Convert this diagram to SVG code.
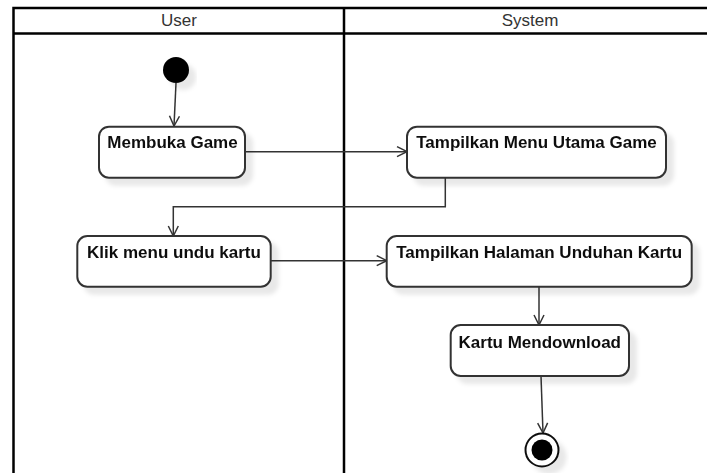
<svg xmlns="http://www.w3.org/2000/svg" width="707" height="473" viewBox="0 0 707 473">
  <defs>
    <filter id="shadow" x="-20%" y="-20%" width="150%" height="160%">
      <feGaussianBlur in="SourceAlpha" stdDeviation="2"/>
      <feOffset dx="7" dy="7" result="off"/>
      <feFlood flood-color="#000" flood-opacity="0.09"/>
      <feComposite in2="off" operator="in"/>
      <feMerge>
        <feMergeNode/>
        <feMergeNode in="SourceGraphic"/>
      </feMerge>
    </filter>
    <marker id="open" viewBox="0 0 12 12" refX="11" refY="6" markerWidth="12" markerHeight="12" markerUnits="userSpaceOnUse" orient="auto">
      <path d="M1,1 L11,6 L1,11" fill="none" stroke="#333" stroke-width="1.5"/>
    </marker>
  </defs>
  <style>
    .lane { fill: none; stroke: #000; stroke-width: 2.5; }
    .head { font-family: "Liberation Sans", Arial, sans-serif; font-size: 17px; fill: #333; text-anchor: middle; }
    .act rect { fill: #fff; stroke: #333; stroke-width: 2; }
    .act text { font-family: "Liberation Sans", Arial, sans-serif; font-size: 17px; font-weight: bold; fill: #111; text-anchor: middle; }
    .flow { fill: none; stroke: #333; stroke-width: 1.5; marker-end: url(#open); }
  </style>
  <rect width="707" height="473" fill="#fff"/>

  <!-- swimlanes -->
  <g id="lanes">
    <path class="lane" d="M13.5,480 V8 H720 M13.5,33.5 H720 M344,8 V480"/>
    <text class="head" x="179" y="26">User</text>
    <text class="head" x="530" y="26">System</text>
  </g>

  <!-- connectors -->
  <g id="connectors">
    <path class="flow" d="M176,83 L174,126"/>
    <path class="flow" d="M245,151.7 H407"/>
    <path class="flow" d="M445.3,177.7 V206.7 H173.3 V236"/>
    <path class="flow" d="M270.7,260.7 H386.7"/>
    <path class="flow" d="M539,286.7 V325"/>
    <path class="flow" d="M541,376 L543,433"/>
  </g>

  <!-- initial node -->
  <g id="start" filter="url(#shadow)">
    <circle cx="176" cy="70" r="13" fill="#000"/>
  </g>

  <g id="membuka-game" class="act" filter="url(#shadow)">
    <rect x="99" y="126.7" width="146" height="51" rx="10"/>
    <text x="172.5" y="148.3">Membuka Game</text>
  </g>

  <g id="menu-utama" class="act" filter="url(#shadow)">
    <rect x="407" y="126.7" width="259" height="51" rx="10"/>
    <text x="536.5" y="148">Tampilkan Menu Utama Game</text>
  </g>

  <g id="klik-menu" class="act" filter="url(#shadow)">
    <rect x="77.3" y="236" width="193.4" height="50.7" rx="10"/>
    <text x="174" y="257.5">Klik menu undu kartu</text>
  </g>

  <g id="halaman-unduhan" class="act" filter="url(#shadow)">
    <rect x="386.7" y="236" width="305" height="50.7" rx="10"/>
    <text x="539.2" y="257.7">Tampilkan Halaman Unduhan Kartu</text>
  </g>

  <g id="kartu-mendownload" class="act" filter="url(#shadow)">
    <rect x="450.7" y="325" width="178.3" height="51" rx="10"/>
    <text x="539.8" y="348">Kartu Mendownload</text>
  </g>

  <!-- final node -->
  <g id="end" filter="url(#shadow)">
    <circle cx="542" cy="450" r="16.5" fill="#fff" stroke="#111" stroke-width="2"/>
    <circle cx="542" cy="450" r="10.5" fill="#000"/>
  </g>
</svg>
